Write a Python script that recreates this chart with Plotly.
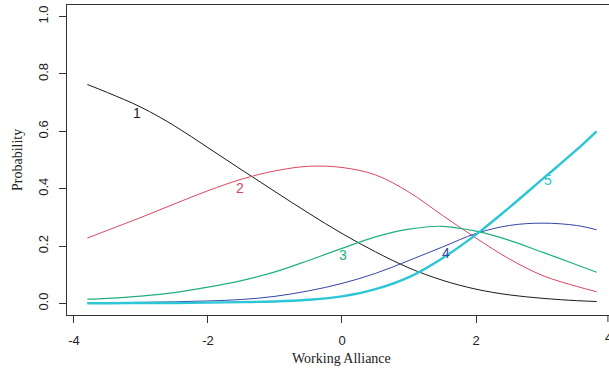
import plotly.graph_objects as go

# Working Alliance grid
x_vals = [-3.8, -3.5, -3.0, -2.5, -2.0, -1.5, -1.0, -0.5, 0.0, 0.5, 1.0, 1.5, 2.0, 2.5, 3.0, 3.5, 3.8]

# Category probability curves
cat1 = [0.763, 0.735, 0.684, 0.619, 0.543, 0.466, 0.390, 0.315, 0.244, 0.180, 0.124, 0.081, 0.050, 0.030, 0.018, 0.010, 0.007]
cat2 = [0.228, 0.255, 0.300, 0.347, 0.393, 0.433, 0.462, 0.478, 0.474, 0.448, 0.388, 0.307, 0.228, 0.155, 0.097, 0.060, 0.041]
cat3 = [0.015, 0.018, 0.026, 0.038, 0.057, 0.080, 0.110, 0.150, 0.192, 0.232, 0.259, 0.269, 0.252, 0.220, 0.178, 0.135, 0.109]
cat4 = [0.002, 0.003, 0.004, 0.006, 0.009, 0.014, 0.025, 0.044, 0.070, 0.105, 0.150, 0.197, 0.244, 0.272, 0.280, 0.272, 0.257]
cat5 = [0.001, 0.001, 0.002, 0.002, 0.003, 0.005, 0.007, 0.013, 0.025, 0.050, 0.092, 0.158, 0.240, 0.335, 0.435, 0.535, 0.600]

series_names = ["1", "2", "3", "4", "5"]
label_x = [-3.06, -1.52, 0.015, 1.55, 3.07]
label_y = [0.665, 0.403, 0.169, 0.176, 0.431]

x_ticks = [-4, -2, 0, 2]
y_ticks = [0.0, 0.2, 0.4, 0.6, 0.8, 1.0]

colors = ["#1a1a1a", "#d9475f", "#22b07a", "#3545a8", "#2cc6d6"]
widths = [1, 1, 1.2, 1, 2.4]

fig = go.Figure()
for name, ys, c, w in zip(series_names, [cat1, cat2, cat3, cat4, cat5], colors, widths):
    fig.add_trace(go.Scatter(x=x_vals, y=ys, mode="lines", name=name,
                             line=dict(color=c, width=w, shape="spline", smoothing=1.0),
                             showlegend=False, hoverinfo="skip"))

annotations = []
for name, lx, ly, c in zip(series_names, label_x, label_y, colors):
    annotations.append(dict(x=lx, y=ly, xref="x", yref="y", text=name, showarrow=False,
                            font=dict(family="Liberation Sans, Arial", size=14, color=c)))

annotations.append(dict(x=0, y=0, xref="x", yref="paper", text="Working Alliance", showarrow=False,
                        yanchor="middle", yshift=-43,
                        font=dict(family="Liberation Serif, Times New Roman", size=14, color="#222")))
annotations.append(dict(x=0, y=0.5, xref="paper", yref="paper", text="Probability", showarrow=False,
                        xanchor="center", xshift=-50, textangle=-90,
                        font=dict(family="Liberation Serif, Times New Roman", size=14, color="#222")))
# partially visible "4" tick label at the cropped right edge
annotations.append(dict(x=1, y=0, xref="paper", yref="paper", text="4", showarrow=False,
                        xanchor="left", xshift=-6, yanchor="middle", yshift=-22,
                        font=dict(family="Liberation Sans, Arial", size=13, color="#222")))

fig.add_shape(type="line", xref="paper", yref="paper", x0=0.998, x1=0.998, y0=0, y1=-7,
              ysizemode="pixel", yanchor=0, line=dict(color="#333", width=1))

fig.update_layout(
    width=609, height=371,
    margin=dict(l=67, r=0, t=5, b=56, autoexpand=False),
    paper_bgcolor="white", plot_bgcolor="white",
    annotations=annotations,
    xaxis=dict(range=[-4.104, 3.985], tickvals=x_ticks, ticktext=[str(v) for v in x_ticks],
               ticks="outside", ticklen=7, tickcolor="#333", showgrid=False, zeroline=False,
               showline=True, linecolor="#333", linewidth=1, mirror=True, automargin=False,
               ticklabelstandoff=6,
               tickfont=dict(family="Liberation Sans, Arial", size=13, color="#222")),
    yaxis=dict(range=[-0.04, 1.04], tickvals=y_ticks, ticktext=[f"{v:.1f}" for v in y_ticks],
               ticks="outside", ticklen=7, tickcolor="#333", showgrid=False, zeroline=False,
               showline=True, linecolor="#333", linewidth=1, tickangle=-90, automargin=False,
               ticklabelstandoff=6,
               tickfont=dict(family="Liberation Sans, Arial", size=13, color="#222")),
)

fig.write_html("out.html", config={"displayModeBar": False},
               post_script="document.body.style.margin='0';document.body.style.overflow='hidden';")
